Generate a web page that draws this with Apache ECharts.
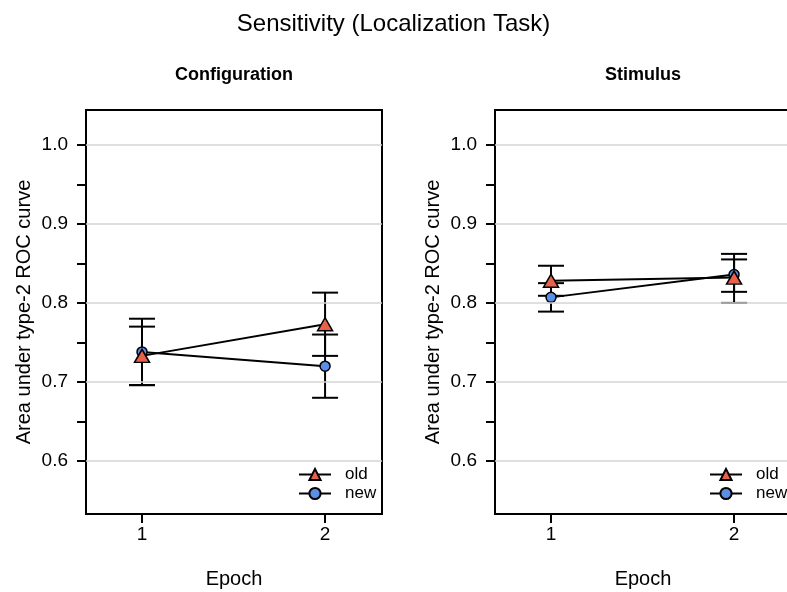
<!DOCTYPE html>
<html>
<head>
<meta charset="utf-8">
<script src="https://cdn.jsdelivr.net/npm/echarts@6/dist/echarts.min.js"></script>
<style>
  html, body { margin: 0; padding: 0; background: #fff; }
  #chart { width: 787px; height: 592px; }
</style>
</head>
<body>
<div id="chart"></div>
<script>
// data
const epochs = [1, 2];

const configOld = [0.733, 0.773];
const configOldLo = [0.696, 0.733];
const configOldHi = [0.770, 0.813];
const configNew = [0.738, 0.720];
const configNewLo = [0.696, 0.680];
const configNewHi = [0.780, 0.760];

const stimOld = [0.828, 0.832];
const stimOldLo = [0.809, 0.814];
const stimOldHi = [0.847, 0.855];
const stimNew = [0.807, 0.836];
const stimNewLo = [0.789, 0.800];
const stimNewHi = [0.825, 0.862];

const yLabelTicks = [0.6, 0.7, 0.8, 0.9, 1.0];
const yMinorTicks = [0.6, 0.65, 0.7, 0.75, 0.8, 0.85, 0.9, 0.95, 1.0];

const OLD_COLOR = '#E8624B';
const NEW_COLOR = '#5B8EE6';
const FONT = 'Liberation Sans, Arial, sans-serif';

let chart = echarts.init(document.getElementById('chart'));

const pairs = (ys) => epochs.map((x, i) => [x, ys[i]]);
const bars = (lo, hi) => epochs.map((x, i) => [x, lo[i], hi[i]]);

// error bar with caps
let renderErr = (params, api) => {
  let x = api.value(0);
  let top = api.coord([x, api.value(2)]);
  let bot = api.coord([x, api.value(1)]);
  let w = 13;
  let st = { stroke: '#000', lineWidth: 2 };
  return {
    type: 'group',
    children: [
      { type: 'line', shape: { x1: top[0], y1: top[1], x2: bot[0], y2: bot[1] }, style: st },
      { type: 'line', shape: { x1: top[0] - w, y1: top[1], x2: top[0] + w, y2: top[1] }, style: st },
      { type: 'line', shape: { x1: bot[0] - w, y1: bot[1], x2: bot[0] + w, y2: bot[1] }, style: st }
    ]
  };
};

let xAxisFor = (idx) => ({
  type: 'value',
  gridIndex: idx,
  min: 0.694,
  max: 2.311,
  name: 'Epoch',
  nameLocation: 'middle',
  nameGap: 55,
  nameTextStyle: { fontSize: 20, color: '#000', fontFamily: FONT },
  axisLine: { show: false },
  axisTick: { show: true, inside: false, length: 9, customValues: epochs, lineStyle: { color: '#000', width: 2 } },
  axisLabel: { customValues: epochs, margin: 11, fontSize: 19, color: '#000', fontFamily: FONT },
  splitLine: { show: false }
});

let yAxisFor = (idx) => ({
  type: 'value',
  gridIndex: idx,
  min: 0.533,
  max: 1.044,
  name: 'Area under type-2 ROC curve',
  nameLocation: 'middle',
  nameRotate: 90,
  nameGap: 52,
  nameTextStyle: { fontSize: 20, color: '#000', fontFamily: FONT },
  axisLine: { show: false },
  axisTick: { show: true, inside: false, length: 9, customValues: yMinorTicks, lineStyle: { color: '#000', width: 2 } },
  axisLabel: { customValues: yLabelTicks, margin: 18, fontSize: 19, color: '#000', fontFamily: FONT,
    formatter: (v) => v.toFixed(1) },
  splitLine: { show: false }
});

let panelSeries = (idx, oldV, oldLo, oldHi, newV, newLo, newHi) => [
  {
    name: 'grid',
    type: 'line',
    xAxisIndex: idx,
    yAxisIndex: idx,
    data: [],
    z: 1,
    markLine: {
      silent: true,
      symbol: ['none', 'none'],
      label: { show: false },
      lineStyle: { color: '#d4d4d4', type: 'solid', width: 1.5 },
      data: yLabelTicks.map(v => ({ yAxis: v }))
    }
  },
  {
    type: 'custom',
    xAxisIndex: idx,
    yAxisIndex: idx,
    renderItem: renderErr,
    data: bars(newLo, newHi),
    z: 2
  },
  {
    type: 'custom',
    xAxisIndex: idx,
    yAxisIndex: idx,
    renderItem: renderErr,
    data: bars(oldLo, oldHi),
    z: 2
  },
  {
    name: 'new',
    type: 'line',
    xAxisIndex: idx,
    yAxisIndex: idx,
    data: pairs(newV),
    symbol: 'circle',
    symbolSize: 10,
    showAllSymbol: true,
    lineStyle: { color: '#000', width: 2 },
    itemStyle: { color: NEW_COLOR, borderColor: '#000', borderWidth: 1.5 },
    z: 3
  },
  {
    name: 'old',
    type: 'line',
    xAxisIndex: idx,
    yAxisIndex: idx,
    data: pairs(oldV),
    symbol: 'triangle',
    symbolSize: [15, 13],
    showAllSymbol: true,
    lineStyle: { color: '#000', width: 2 },
    itemStyle: { color: OLD_COLOR, borderColor: '#000', borderWidth: 1.5 },
    z: 4
  }
];

let legendFor = (left) => ({
  data: ['old', 'new'],
  orient: 'vertical',
  left: left,
  top: 466,
  padding: 0,
  itemWidth: 32,
  itemHeight: 14,
  itemGap: 2,
  selectedMode: false,
  textStyle: { fontSize: 17, lineHeight: 17, color: '#000', fontFamily: FONT, padding: [0, 0, 0, 9] }
});

let gridFor = (left) => ({
  left: left, top: 110, width: 296, height: 404,
  outerBoundsMode: 'none', containLabel: false,
  show: true, borderColor: '#000', borderWidth: 2, backgroundColor: 'transparent'
});

const option = {
  animation: false,
  backgroundColor: '#fff',
  title: [
    { text: 'Sensitivity (Localization Task)', left: 'center', top: 7,
      textStyle: { fontSize: 24, fontWeight: 'normal', color: '#000', fontFamily: FONT } },
    { text: 'Configuration', left: 234, textAlign: 'center', top: 66, padding: 0,
      textStyle: { fontSize: 18, fontWeight: 'bold', color: '#000', fontFamily: FONT } },
    { text: 'Stimulus', left: 643, textAlign: 'center', top: 66, padding: 0,
      textStyle: { fontSize: 18, fontWeight: 'bold', color: '#000', fontFamily: FONT } }
  ],
  legend: [legendFor(298), legendFor(709)],
  grid: [gridFor(86), gridFor(495)],
  xAxis: [xAxisFor(0), xAxisFor(1)],
  yAxis: [yAxisFor(0), yAxisFor(1)],
  series: [
    ...panelSeries(0, configOld, configOldLo, configOldHi, configNew, configNewLo, configNewHi),
    ...panelSeries(1, stimOld, stimOldLo, stimOldHi, stimNew, stimNewLo, stimNewHi)
  ]
};

chart.setOption(option);
</script>
</body>
</html>
